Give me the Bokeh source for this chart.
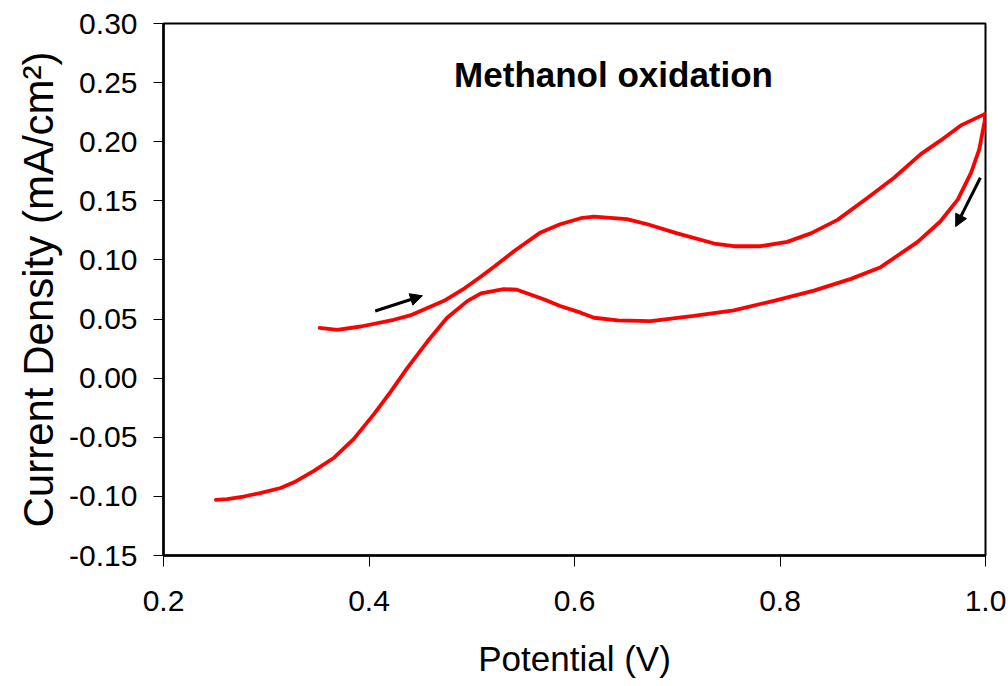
from bokeh.plotting import figure
from bokeh.models import (Range1d, FixedTicker, NumeralTickFormatter, Label,
                          Arrow, NormalHead)
from bokeh.embed import file_html
from bokeh.resources import INLINE

# Cyclic voltammogram, methanol oxidation
# anodic (forward) sweep: potential in V, current density in mA/cm2
fwd_potential = [0.352, 0.369, 0.392, 0.424, 0.440, 0.473, 0.491, 0.509, 0.522,
                 0.541, 0.567, 0.586, 0.606, 0.619, 0.651, 0.671, 0.700, 0.736,
                 0.755, 0.781, 0.807, 0.830, 0.856, 0.885, 0.911, 0.937, 0.956,
                 0.976, 0.998, 1.000]
fwd_current = [0.0426, 0.0409, 0.0437, 0.0494, 0.0531, 0.0654, 0.0748, 0.0860,
               0.0945, 0.1073, 0.1233, 0.1302, 0.1353, 0.1367, 0.1345, 0.1302,
               0.1225, 0.1139, 0.1116, 0.1116, 0.1153, 0.1225, 0.1339, 0.1524,
               0.1695, 0.1895, 0.2009, 0.2138, 0.2229, 0.2238]

# cathodic (reverse) sweep
rev_potential = [1.000, 0.999, 0.994, 0.986, 0.973, 0.956, 0.934, 0.898, 0.869,
                 0.833, 0.794, 0.755, 0.716, 0.674, 0.642, 0.619, 0.606, 0.586,
                 0.570, 0.544, 0.531, 0.509, 0.496, 0.476, 0.457, 0.437, 0.421,
                 0.405, 0.385, 0.366, 0.346, 0.327, 0.314, 0.294, 0.278, 0.262,
                 0.251]
rev_current = [0.2238, 0.2166, 0.1938, 0.1738, 0.1510, 0.1325, 0.1153, 0.0939,
               0.0840, 0.0740, 0.0654, 0.0574, 0.0526, 0.0483, 0.0489, 0.0511,
               0.0554, 0.0611, 0.0668, 0.0748, 0.0754, 0.0717, 0.0654, 0.0511,
               0.0312, 0.0083, -0.0116, -0.0302, -0.0516, -0.0673, -0.0787,
               -0.0881, -0.0929, -0.0972, -0.1001, -0.1023, -0.1029]

x_ticks = [0.2, 0.4, 0.6, 0.8, 1.0]
y_ticks = [-0.15, -0.10, -0.05, 0.00, 0.05, 0.10, 0.15, 0.20, 0.25, 0.30]

# sweep-direction arrows: (x_start, y_start, x_end, y_end)
arrow_forward = (0.406, 0.0568, 0.452, 0.0697)
arrow_reverse = (0.995, 0.1695, 0.971, 0.1282)

FONT = "Liberation Sans"

p = figure(width=1008, height=686,
           x_range=Range1d(0.2, 1.0), y_range=Range1d(-0.15, 0.30),
           output_backend="svg", toolbar_location=None,
           min_border_left=163, min_border_right=23,
           min_border_top=23, min_border_bottom=131)

p.background_fill_color = "white"
p.border_fill_color = "white"
p.outline_line_color = "black"
p.outline_line_width = 2
p.xgrid.visible = False
p.ygrid.visible = False

# axes
p.xaxis.ticker = FixedTicker(ticks=x_ticks)
p.yaxis.ticker = FixedTicker(ticks=y_ticks)
p.xaxis.formatter = NumeralTickFormatter(format="0.0")
p.yaxis.formatter = NumeralTickFormatter(format="0.00")

for ax in (p.xaxis, p.yaxis):
    ax.axis_line_color = "black"
    ax.axis_line_width = 2.5
    ax.major_tick_line_color = "black"
    ax.major_tick_line_width = 1
    ax.major_tick_in = 0
    ax.minor_tick_line_color = None
    ax.major_label_text_font = FONT
    ax.major_label_text_font_size = "30px"
    ax.major_label_text_color = "black"
    ax.axis_label_text_font = FONT
    ax.axis_label_text_font_style = "normal"
    ax.axis_label_text_color = "black"

p.xaxis.major_tick_out = 11
p.yaxis.major_tick_out = 10
p.xaxis.major_label_standoff = 24
p.yaxis.major_label_standoff = 16

p.xaxis.axis_label = "Potential (V)"
p.xaxis.axis_label_text_font_size = "35px"
p.xaxis.axis_label_standoff = 25
p.yaxis.axis_label = "Current Density (mA/cm²)"
p.yaxis.axis_label_text_font_size = "42px"
p.yaxis.axis_label_standoff = 4

# voltammogram sweeps
p.line(fwd_potential, fwd_current, line_color="#ff0000", line_width=3.8,
       line_join="round", line_cap="round")
p.line(rev_potential, rev_current, line_color="#ff0000", line_width=3.8,
       line_join="round", line_cap="round")

# direction arrows
for (xs, ys, xe, ye) in (arrow_forward, arrow_reverse):
    p.add_layout(Arrow(x_start=xs, y_start=ys, x_end=xe, y_end=ye,
                       line_color="black", line_width=3,
                       end=NormalHead(size=12, fill_color="black",
                                      line_color="black", line_width=1)))

# in-plot title
p.add_layout(Label(x=0.638, y=0.257, text="Methanol oxidation",
                   text_align="center", text_baseline="alphabetic",
                   text_font=FONT, text_font_size="35px",
                   text_font_style="bold", text_color="black"))

open("out.html", "w").write(file_html(p, INLINE))
